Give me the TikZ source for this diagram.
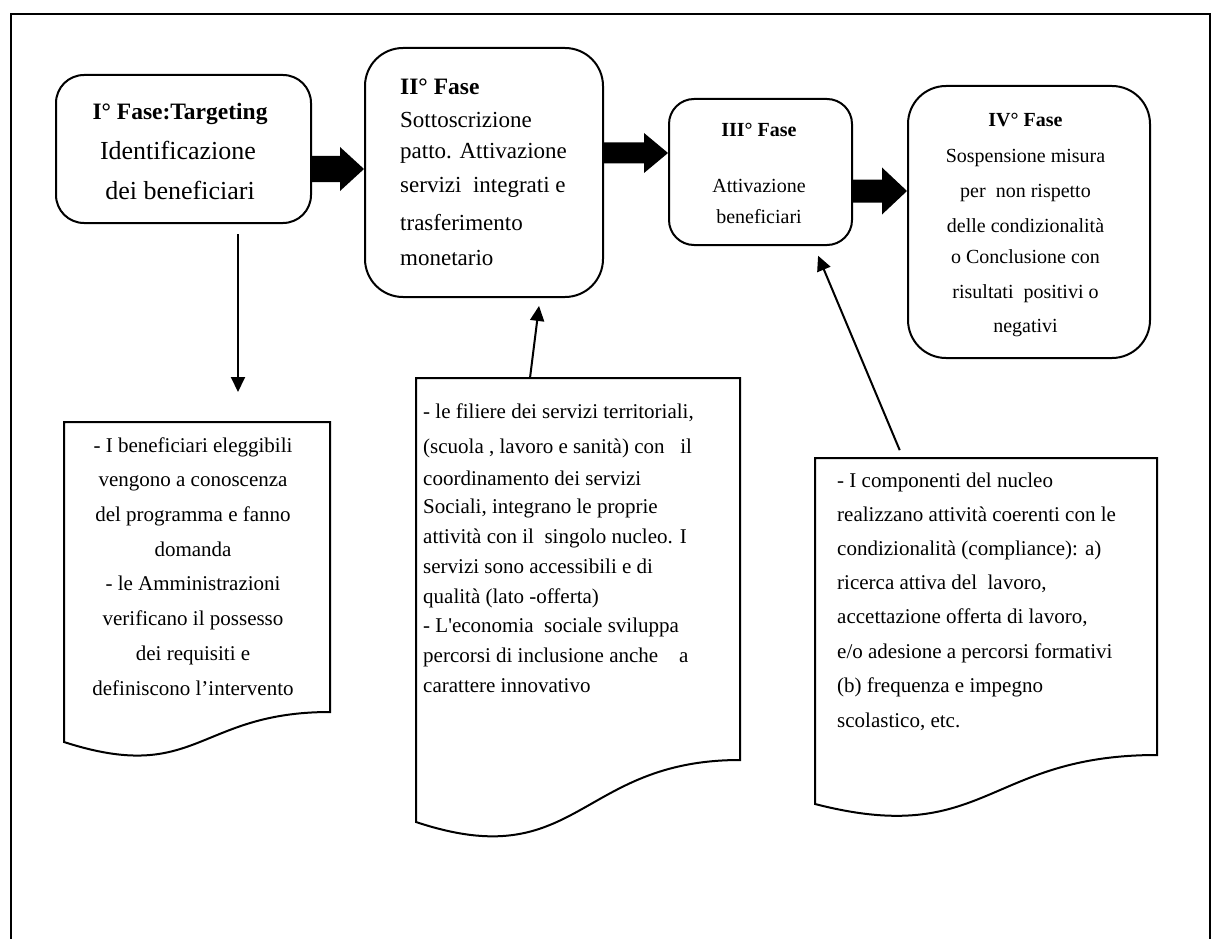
\documentclass[tikz,border=0pt]{standalone}
\usepackage{fontspec}
\setmainfont{Liberation Serif}
\usetikzlibrary{arrows.meta,calc}
\tikzset{
  phase/.style={draw, line width=2pt, inner sep=0pt},
  docline/.style={draw, line width=2pt, line join=miter},
  conn/.style={line width=2pt, -{Triangle[length=15pt,width=14pt]}},
  blk/.style={fill=black},
  ln/.style={inner sep=0pt, anchor=base},
  lnl/.style={inner sep=0pt, anchor=base west},
  fA/.style={font=\fontsize{26}{30}\selectfont},
  fAb/.style={font=\fontsize{23.5}{28}\selectfont\bfseries},
  fB/.style={font=\fontsize{23}{28}\selectfont},
  fBb/.style={font=\fontsize{23.5}{28}\selectfont\bfseries},
  fC/.style={font=\fontsize{20}{24}\selectfont},
  fCb/.style={font=\fontsize{20}{24}\selectfont\bfseries},
  fD/.style={font=\fontsize{21}{25}\selectfont},
}
\newcommand\blkarrow[5]{%
  \fill[blk] ($(#1)+(0,-#3)$) -- ($(#2)+(-#5,-#3)$) -- ($(#2)+(-#5,-#4)$) -- (#2)
    -- ($(#2)+(-#5,#4)$) -- ($(#2)+(-#5,#3)$) -- ($(#1)+(0,#3)$) -- cycle;}
\newcommand\docshape[6]{%
  \draw[docline] (#1,#3) -- (#2,#3) -- (#2,#4)
    .. controls ({(#1+#2)/2},#4) and ({(#1+#2)/2},#5) .. (#1,#6) -- cycle;}
\begin{document}
\begin{tikzpicture}[x=1pt,y=-1pt]
\useasboundingbox (0,0) rectangle (1221,939);
% outer frame
\draw[line width=2pt] (11,939) -- (11,14) -- (1210,14) -- (1210,939);

% phase boxes
\node[phase, rounded corners=28pt, minimum width=255pt, minimum height=148pt] (b1) at (183.5,149) {};
\node[phase, rounded corners=38pt, minimum width=238pt, minimum height=249pt] (b2) at (484,172.5) {};
\node[phase, rounded corners=25pt, minimum width=183pt, minimum height=146pt] (b3) at (760.5,172) {};
\node[phase, rounded corners=38pt, minimum width=242pt, minimum height=272pt] (b4) at (1029,222) {};

% box texts
\node[ln, fAb] (b1l1) at (180,120) {I° Fase:Targeting};
\node[ln, fA] (b1l2) at (178,160) {Identificazione};
\node[ln, fA] (b1l3) at (180,200) {dei beneficiari};

\node[lnl, fBb] (b2l1) at (400,95) {II° Fase};
\node[lnl, fB] (b2l2) at (400,128) {Sottoscrizione};
\node[lnl, fB] (b2l3) at (400,158) {patto. Attivazione};
\node[lnl, fB] (b2l4) at (400,193) {servizi\ \ integrati e};
\node[lnl, fB] (b2l5) at (400,230) {trasferimento};
\node[lnl, fB] (b2l6) at (400,265) {monetario};

\node[ln, fCb] (b3l1) at (759,137) {III° Fase};
\node[ln, fC] (b3l2) at (759,192) {Attivazione};
\node[ln, fC] (b3l3) at (759,223) {beneficiari};

\node[ln, fCb] (b4l1) at (1025.5,127) {IV° Fase};
\node[ln, fC] (b4l2) at (1025.5,162) {Sospensione misura};
\node[ln, fC] (b4l3) at (1025.5,197) {per\ \ non rispetto};
\node[ln, fC] (b4l4) at (1025.5,232) {delle\ condizionalità};
\node[ln, fC] (b4l5) at (1025.5,263) {o Conclusione con};
\node[ln, fC] (b4l6) at (1025.5,298) {risultati\ \ positivi o};
\node[ln, fC] (b4l7) at (1025.5,332) {negativi};

% block arrows
\path (b1.east) ++(0,20) coordinate (a1s);
\coordinate (a1e) at (b2.west |- a1s);
\blkarrow{a1s}{a1e}{13}{22}{24}
\path (b2.east) ++(0,-19.5) coordinate (a2s);
\coordinate (a2e) at (b3.west |- a2s);
\blkarrow{a2s}{a2e}{10.5}{20}{24}
\path (b3.east) ++(0,19) coordinate (a3s);
\coordinate (a3e) at (b4.west |- a3s);
\blkarrow{a3s}{a3e}{11.5}{23.5}{25}

% documents
\docshape{64}{330}{422}{712}{785}{742}
\docshape{416}{740}{378}{760}{876}{822}
\docshape{815}{1157}{458}{755}{848}{804}
\coordinate (d1top) at (238,422);
\coordinate (d2top) at (530,378);
\coordinate (d3top) at (903,458);

% doc 1 text
\node[ln, fD] (d1l1) at (193,452) {- I beneficiari eleggibili};
\node[ln, fD] (d1l2) at (193,486.7) {vengono a conoscenza};
\node[ln, fD] (d1l3) at (193,521.4) {del programma e fanno};
\node[ln, fD] (d1l4) at (193,556) {domanda};
\node[ln, fD] (d1l5) at (193,590.5) {- le Amministrazioni};
\node[ln, fD] (d1l6) at (193,625) {verificano il possesso};
\node[ln, fD] (d1l7) at (193,660) {dei requisiti e};
\node[ln, fD] (d1l8) at (193,695) {definiscono l’intervento};

% doc 2 text
\node[lnl, fD] (d2l1) at (423,418) {- le filiere dei servizi territoriali,};
\node[lnl, fD] (d2l2) at (423,453) {(scuola , lavoro e sanità) con\ \ \ il};
\node[lnl, fD] (d2l3) at (423,485) {coordinamento dei servizi};
\node[lnl, fD] (d2l4) at (423,513) {Sociali, integrano le proprie};
\node[lnl, fD] (d2l5) at (423,543) {attività con il\ \ singolo nucleo. I};
\node[lnl, fD] (d2l6) at (423,573) {servizi sono accessibili e di};
\node[lnl, fD] (d2l7) at (423,603) {qualità (lato -offerta)};
\node[lnl, fD] (d2l8) at (423,632) {- L\textquotesingle economia\ \ sociale sviluppa};
\node[lnl, fD] (d2l9) at (423,662) {percorsi di inclusione anche\ \ \ \ a};
\node[lnl, fD] (d2l10) at (423,692) {carattere innovativo};

% doc 3 text
\node[lnl, fD] (d3l1) at (837,487) {- I componenti del nucleo};
\node[lnl, fD] (d3l2) at (837,521) {realizzano attività coerenti con le};
\node[lnl, fD] (d3l3) at (837,555) {condizionalità (compliance): a)};
\node[lnl, fD] (d3l4) at (837,589) {ricerca attiva del\ \ lavoro,};
\node[lnl, fD] (d3l5) at (837,623) {accettazione offerta di lavoro,};
\node[lnl, fD] (d3l6) at (837,658) {e/o adesione a percorsi formativi};
\node[lnl, fD] (d3l7) at (837,692) {(b) frequenza e impegno};
\node[lnl, fD] (d3l8) at (837,727) {scolastico, etc.};

% connectors
\draw[conn, shorten <=10pt, shorten >=30pt] (b1.south -| d1top) -- (d1top);
\coordinate (b2in) at (540,297);
\draw[conn, shorten >=8pt] (d2top) -- (b2.south -| b2in);
\coordinate (b3in) at (814,245);
\draw[conn, shorten <=8.5pt, shorten >=10.5pt] (d3top) -- (b3.south -| b3in);
\end{tikzpicture}
\end{document}
